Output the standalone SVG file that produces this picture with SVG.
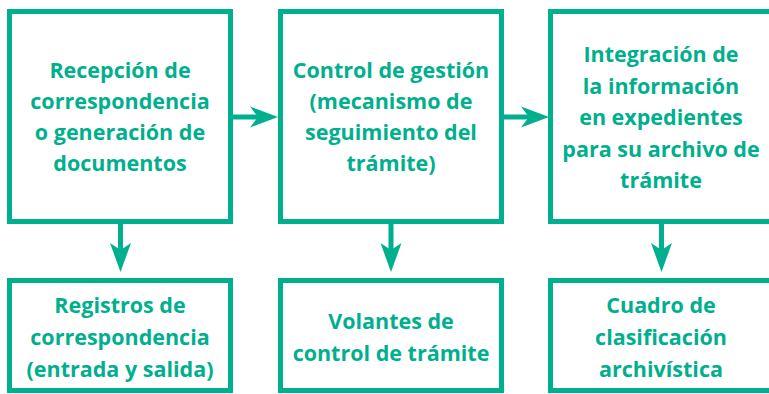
<svg xmlns="http://www.w3.org/2000/svg" width="769" height="394" viewBox="0 0 769 394">
  <defs>
    <style>
      .box { fill: #ffffff; stroke: #00AF8D; stroke-width: 5; }
      .lbl { fill: #00AF8D; font-family: "Open Sans", "Lato", "Liberation Sans", sans-serif; font-weight: 700; font-size: 21.5px; text-anchor: middle; }
      .line { stroke: #00AF8D; stroke-width: 5; fill: none; }
      .head { fill: #00AF8D; }
    </style>
  </defs>
  <rect width="769" height="394" fill="#ffffff"/>
  <g id="connectors">
    <line class="line" x1="232" y1="117" x2="262" y2="117"/>
    <path class="head" d="M278,117 L250,106.5 L258,117 L250,127.5 Z"/>
    <line class="line" x1="503" y1="117" x2="533" y2="117"/>
    <path class="head" d="M549,117 L521,106.5 L529,117 L521,127.5 Z"/>
    <line class="line" x1="120.5" y1="223" x2="120.5" y2="254"/>
    <path class="head" d="M120.5,272 L110,243 L120.5,250 L131,243 Z"/>
    <line class="line" x1="391" y1="223" x2="391" y2="254"/>
    <path class="head" d="M391,272 L380.5,243 L391,250 L401.5,243 Z"/>
    <line class="line" x1="661.5" y1="223" x2="661.5" y2="254"/>
    <path class="head" d="M661.5,272 L651,243 L661.5,250 L672,243 Z"/>
  </g>
  <g id="n1">
    <rect class="box" x="9.5" y="11.5" width="221" height="210"/>
    <text class="lbl" x="120" y="78">Recepción de</text>
    <text class="lbl" x="120" y="109">correspondencia</text>
    <text class="lbl" x="120" y="140">o generación de</text>
    <text class="lbl" x="120" y="171">documentos</text>
  </g>
  <g id="n2">
    <rect class="box" x="280.5" y="11.5" width="221" height="210"/>
    <text class="lbl" x="391" y="78">Control de gestión</text>
    <text class="lbl" x="391" y="109">(mecanismo de</text>
    <text class="lbl" x="391" y="140">seguimiento del</text>
    <text class="lbl" x="391" y="171">trámite)</text>
  </g>
  <g id="n3">
    <rect class="box" x="550.5" y="11.5" width="221" height="210"/>
    <text class="lbl" x="661" y="62">Integración de</text>
    <text class="lbl" x="661" y="93.5">la información</text>
    <text class="lbl" x="661" y="125">en expedientes</text>
    <text class="lbl" x="661" y="156.5">para su archivo de</text>
    <text class="lbl" x="661" y="188">trámite</text>
  </g>
  <g id="n4">
    <rect class="box" x="9.5" y="280.5" width="221" height="110"/>
    <text class="lbl" x="120" y="313">Registros de</text>
    <text class="lbl" x="120" y="345">correspondencia</text>
    <text class="lbl" x="120" y="377">(entrada y salida)</text>
  </g>
  <g id="n5">
    <rect class="box" x="280.5" y="280.5" width="221" height="110"/>
    <text class="lbl" x="391" y="329">Volantes de</text>
    <text class="lbl" x="391" y="361">control de trámite</text>
  </g>
  <g id="n6">
    <rect class="box" x="550.5" y="280.5" width="221" height="110"/>
    <text class="lbl" x="661" y="313">Cuadro de</text>
    <text class="lbl" x="661" y="345">clasificación</text>
    <text class="lbl" x="661" y="377">archivística</text>
  </g>
</svg>
